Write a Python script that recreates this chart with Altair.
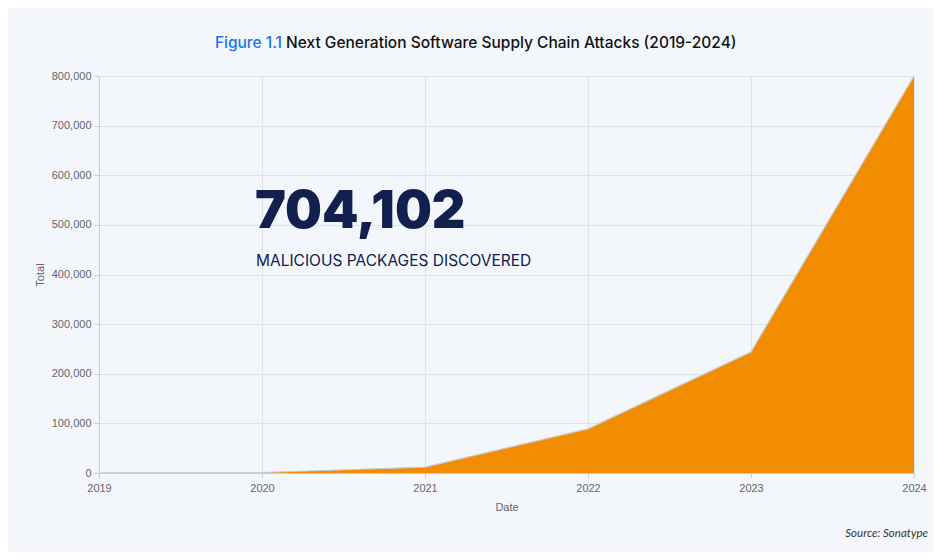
import altair as alt
import pandas as pd

years = [2019, 2020, 2021, 2022, 2023, 2024]
totals = [200, 1000, 12000, 89000, 244000, 800000]
y_ticks = [0, 100000, 200000, 300000, 400000, 500000, 600000, 700000, 800000]

title_lead = "Figure 1.1"
title_rest = "Next Generation Software Supply Chain Attacks (2019-2024)"
big_number = "704,102"
big_caption = "MALICIOUS PACKAGES DISCOVERED"
source = "Source: Sonatype"

df = pd.DataFrame({"Date": years, "Total": totals})

W, H = 815, 397

x = alt.X("Date:Q", scale=alt.Scale(domain=[2019, 2024], nice=False),
          axis=alt.Axis(values=years, format="d", title="Date", labelFlush=False))
y = alt.Y("Total:Q", scale=alt.Scale(domain=[0, 800000], nice=False),
          axis=alt.Axis(values=y_ticks, format=",d", title="Total"))

area = alt.Chart(df).mark_area(color="#f28c00", opacity=1).encode(x=x, y=y)
line = alt.Chart(df).mark_line(color="#c9ccd3", strokeWidth=1.2).encode(x="Date:Q", y="Total:Q")

def txt(s, **kw):
    return alt.Chart(pd.DataFrame({"t": [s]})).mark_text(**kw).encode(text="t:N")

t1 = txt(title_lead, align="right", baseline="alphabetic", font="Inter", fontSize=15.5,
         fontWeight=500, color="#1a73e8").encode(x=alt.value(183), y=alt.value(-28))
t2 = txt(title_rest, align="left", baseline="alphabetic", font="Inter", fontSize=15.5,
         fontWeight=500, color="#111111").encode(x=alt.value(187), y=alt.value(-28))
big = txt(big_number, align="left", baseline="alphabetic", font="Inter", fontSize=52,
          fontWeight=900, color="#11204f").encode(x=alt.value(156), y=alt.value(152))
cap = txt(big_caption, align="left", baseline="alphabetic", font="Inter", fontSize=15.5,
          fontWeight=400, color="#11204f").encode(x=alt.value(157), y=alt.value(190))
src = txt(source, align="right", baseline="alphabetic", font="Lato", fontSize=11.5,
          fontStyle="italic", color="#333333").encode(x=alt.value(829), y=alt.value(461))

chart = alt.layer(area, line, t1, t2, big, cap, src).properties(
    width=W, height=H,
    autosize=alt.AutoSizeParams(type="none"),
    padding={"left": 91, "top": 68, "right": 19, "bottom": 79},
    background="#f3f7fb",
).configure_view(stroke=None).configure_axis(
    labelFont="Liberation Sans", titleFont="Liberation Sans",
    labelFontSize=11, titleFontSize=11, titleFontWeight="normal",
    labelColor="#666666", titleColor="#666666",
    gridColor="#dfe3e8", domainColor="#cccccc", tickColor="#cccccc",
    tickSize=5,
).configure_axisY(labelPadding=3, titlePadding=6).configure_axisX(
    labelPadding=4, titlePadding=8)

chart.save("out.html", embed_options={"renderer": "svg", "actions": False})
